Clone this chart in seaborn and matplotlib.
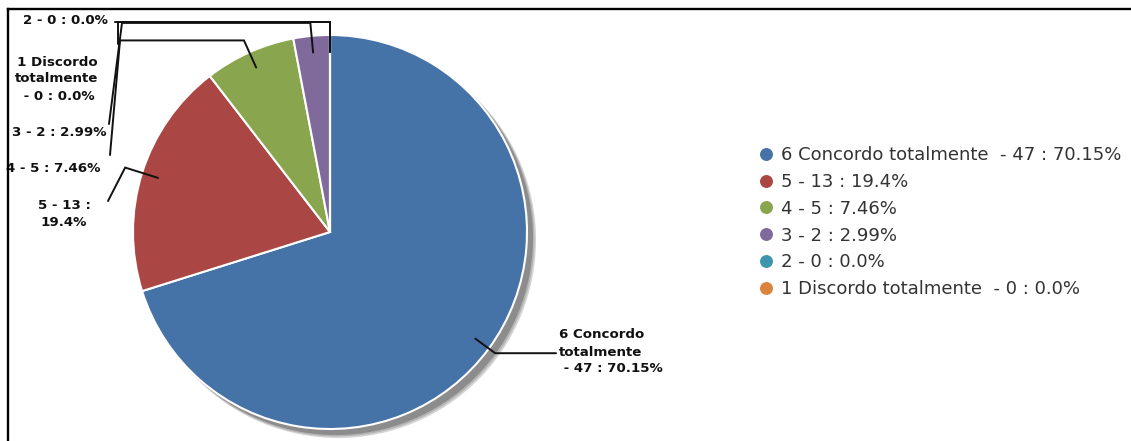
import textwrap

import matplotlib
matplotlib.use("Agg")
import matplotlib.pyplot as plt
import numpy as np
import seaborn as sns
from matplotlib.lines import Line2D
from matplotlib.patches import Circle

# data
categories = ["6 Concordo totalmente ", "5", "4", "3", "2", "1 Discordo totalmente "]
counts = [47, 13, 5, 2, 0, 0]
percents = ["70.15%", "19.4%", "7.46%", "2.99%", "0.0%", "0.0%"]
colors = ["#4572A7", "#AA4643", "#89A54E", "#80699B", "#3D96AE", "#DB843D"]

full_labels = [f"{c} - {n} : {p}" for c, n, p in zip(categories, counts, percents)]


def wrap_label(name, n, p):
    name = name.strip()
    if len(name) > 10:
        return textwrap.fill(name, 10) + f"\n - {n} : {p}"
    return textwrap.fill(f"{name} - {n} : {p}", 13)


pie_labels = [wrap_label(c, n, p) for c, n, p in zip(categories, counts, percents)]

# layout in pixels (y grows downwards)
W, H = 1131, 441
cx, cy, R = 330, 232, 197

# label text position / alignment for each slice
label_pos = [(559, 352, "left"), (64, 214, "center"), (100, 169, "right"),
             (107, 132, "right"), (108, 21, "right"), (57, 79, "center")]
# how far out the connector leaves the pie, then the bends towards the label
out_r = [1.04, 1.09, 1.066, 1.066, 1.066, 1.066]
bends = [[(556, None)],
         [(108, 201)],
         [(120, None), (110, 155)],
         [(122, None), (109, 124)],
         [(115, None)],
         [(118, None), (118, 44)]]

sns.set_theme(style="white")
plt.rcParams["font.family"] = ["DejaVu Sans"]

fig = plt.figure(figsize=(W / 100, H / 100), dpi=100)
ax = fig.add_axes([0, 0, 1, 1])

# soft shadow behind the pie
for off, extra, col in [(8, 1, "#d4d4d4"), (7, 0.5, "#b4b4b4"), (6, 0, "#8c8c8c")]:
    ax.add_patch(Circle((cx + off, cy + off), R + extra, color=col, zorder=0, lw=0))

wedges, _ = ax.pie(counts, colors=colors, startangle=-90, counterclock=True,
                   center=(cx, cy), radius=R,
                   wedgeprops=dict(edgecolor="white", linewidth=1.5))

# data labels with connectors
for i, w in enumerate(wedges):
    mid = np.deg2rad((w.theta1 + w.theta2) / 2)
    ax_, ay_ = cx + 0.915 * R * np.cos(mid), cy + 0.915 * R * np.sin(mid)
    ox, oy = cx + out_r[i] * R * np.cos(mid), cy + out_r[i] * R * np.sin(mid)
    xs, ys = [ax_, ox], [ay_, oy]
    for bx, by in bends[i]:
        xs.append(bx)
        ys.append(ys[-1] if by is None else by)
    ax.plot(xs, ys, color="#111111", lw=1.4, zorder=3, solid_joinstyle="miter")
    tx, ty, ha = label_pos[i]
    ax.text(tx, ty, pie_labels[i], ha=ha, va="center", multialignment=ha,
            fontsize=9.6, fontweight="bold", color="#111111", zorder=4,
            linespacing=1.4)

# legend
handles = [Line2D([], [], marker="o", linestyle="none", markersize=8.3,
                  markerfacecolor=c, markeredgecolor=c) for c in colors]
ax.legend(handles, full_labels, loc="upper left", bbox_to_anchor=(760, 146),
          bbox_transform=ax.transData, frameon=False, fontsize=13,
          handlelength=0.7, handletextpad=0.48, labelspacing=0.49,
          borderpad=0, borderaxespad=0, labelcolor="#333333")

# frame lines of the cropped chart box
ax.plot([7.5, W], [9, 9], color="black", lw=1.7, zorder=5, solid_capstyle="projecting")
ax.plot([7.5, 7.5], [9, H], color="black", lw=1.7, zorder=5, solid_capstyle="projecting")

ax.set_xlim(0, W)
ax.set_ylim(H, 0)
ax.set_aspect("auto")
ax.axis("off")

fig.savefig("out.png", dpi=100)
